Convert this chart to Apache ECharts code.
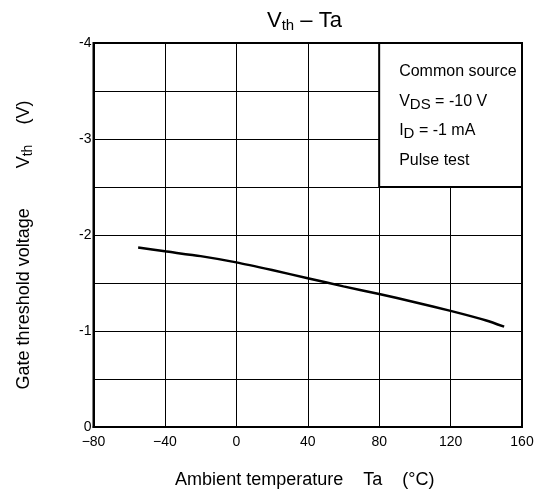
<!DOCTYPE html>
<html>
<head>
<meta charset="utf-8">
<script src="https://cdn.jsdelivr.net/npm/echarts@6/dist/echarts.min.js"></script>
<style>html,body{margin:0;padding:0;background:#fff}#c{width:540px;height:499px}</style>
</head>
<body>
<div id="c"></div>
<script>
var temps = [-55, -40, -20, 0, 20, 40, 60, 80, 100, 120, 140, 150];
var vth = [-1.87, -1.83, -1.78, -1.715, -1.635, -1.55, -1.465, -1.385, -1.30, -1.21, -1.11, -1.045];
var xTicks = [-80, -40, 0, 40, 80, 120, 160];
var yTicks = [0, -1, -2, -3, -4];
var boxCorners = [[80, -4], [160, -2.5]];
var condLines = ['{n|Common source}', '{n|V}{s|DS}{n| = -10 V}', '{n|I}{s|D}{n| = -1 mA}', '{n|Pulse test}'];

var FONT = 'Liberation Sans, Arial, sans-serif';
var chart = echarts.init(document.getElementById('c'));
var data = temps.map(function (t, i) { return [t, vth[i]]; });

chart.setOption({
  animation: false,
  backgroundColor: '#fff',
  title: {
    left: 262, top: 3,
    text: '{v|V}{s|th}{v| \u2013 Ta}',
    textStyle: {
      rich: {
        v: { fontFamily: FONT, fontSize: 22, fontWeight: 'normal', color: '#000' },
        s: { fontFamily: FONT, fontSize: 15, fontWeight: 'normal', color: '#000', padding: [10, 0, 0, 0] }
      }
    }
  },
  grid: { left: 93.5, right: 18, top: 43, bottom: 72, show: true, borderColor: '#000', borderWidth: 2, backgroundColor: 'transparent' },
  xAxis: {
    type: 'value', min: -80, max: 160, interval: 40,
    name: 'Ambient temperature    Ta    (\u00b0C)',
    nameLocation: 'middle', nameGap: 44,
    nameTextStyle: { fontFamily: FONT, fontSize: 18, color: '#000', padding: [0, 6, 0, 0] },
    axisLine: { onZero: false, lineStyle: { color: '#000', width: 2 } },
    axisTick: { show: false },
    splitLine: { show: true, lineStyle: { color: '#000', width: 1 } },
    axisLabel: {
      fontFamily: FONT, fontSize: 14, color: '#000', margin: 8,
      formatter: function (v) { return xTicks.indexOf(v) >= 0 ? String(v).replace('-', '\u2212') : ''; }
    }
  },
  yAxis: {
    type: 'value', min: -4, max: 0, interval: 0.5, inverse: true,
    name: '{n|Gate threshold voltage        V}{s|th}{n|    (V)}',
    nameLocation: 'middle', nameGap: 58, nameRotate: 90,
    nameTextStyle: {
      padding: [0, 20, 0, 0],
      rich: {
        n: { fontFamily: FONT, fontSize: 18, color: '#000' },
        s: { fontFamily: FONT, fontSize: 14, color: '#000', padding: [9, 0, 0, 0] }
      }
    },
    axisLine: { onZero: false, lineStyle: { color: '#000', width: 2 } },
    axisTick: { show: false },
    splitLine: { show: true, lineStyle: { color: '#000', width: 1 } },
    axisLabel: {
      fontFamily: FONT, fontSize: 14, color: '#000', margin: 2,
      formatter: function (v) { return yTicks.indexOf(v) >= 0 ? String(v) : ''; }
    }
  },
  series: [{
    type: 'line',
    data: data,
    smooth: 0.2,
    symbol: 'none',
    lineStyle: { color: '#000', width: 2.5 },
    markArea: {
      silent: true,
      itemStyle: { color: '#fff', opacity: 1, borderColor: '#000', borderWidth: 2 },
      label: {
        show: true, position: 'insideTopLeft', offset: [16, 10],
        formatter: condLines.join('\n'),
        color: '#000',
        rich: {
          n: { fontFamily: FONT, fontSize: 16, color: '#000', lineHeight: 29.5 },
          s: { fontFamily: FONT, fontSize: 15, color: '#000', lineHeight: 29.5, padding: [7, 0, 0, 0] }
        }
      },
      data: [[{ coord: boxCorners[0] }, { coord: boxCorners[1] }]]
    }
  }]
});
</script>
</body>
</html>
